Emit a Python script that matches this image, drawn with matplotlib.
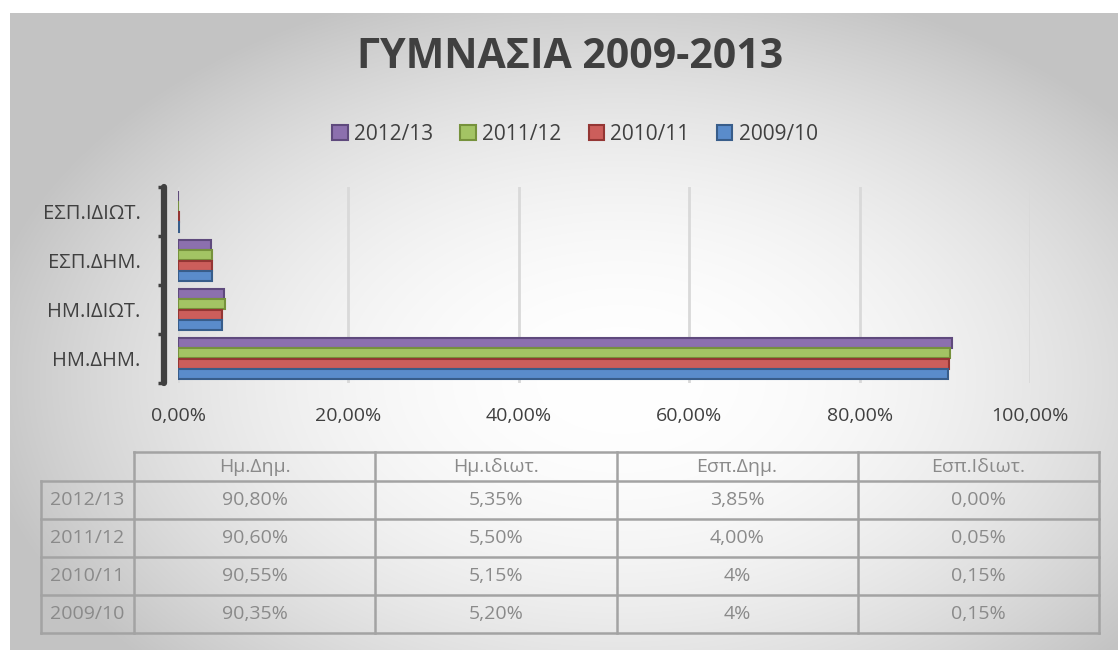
import numpy as np
import matplotlib
matplotlib.use("Agg")
import matplotlib.pyplot as plt
from matplotlib.patches import Patch

plt.rcParams['font.family'] = ['Open Sans', 'DejaVu Sans']

# ---------------- data ----------------
title = "ΓΥΜΝΑΣΙΑ 2009-2013"
categories = ["ΗΜ.ΔΗΜ.", "ΗΜ.ΙΔΙΩΤ.", "ΕΣΠ.ΔΗΜ.", "ΕΣΠ.ΙΔΙΩΤ."]
table_cols = ["Ημ.Δημ.", "Ημ.ιδιωτ.", "Εσπ.Δημ.", "Εσπ.Ιδιωτ."]
series = ["2012/13", "2011/12", "2010/11", "2009/10"]
v_2012_13 = [0.9080, 0.0535, 0.0385, 0.0000]
v_2011_12 = [0.9060, 0.0550, 0.0400, 0.0005]
v_2010_11 = [0.9055, 0.0515, 0.0400, 0.0015]
v_2009_10 = [0.9035, 0.0520, 0.0400, 0.0015]
table_text = [
    ["90,80%", "5,35%", "3,85%", "0,00%"],
    ["90,60%", "5,50%", "4,00%", "0,05%"],
    ["90,55%", "5,15%", "4%", "0,15%"],
    ["90,35%", "5,20%", "4%", "0,15%"],
]
xticks = [0.0, 0.2, 0.4, 0.6, 0.8, 1.0]
xtick_labels = ["0,00%", "20,00%", "40,00%", "60,00%", "80,00%", "100,00%"]

values = [v_2012_13, v_2011_12, v_2010_11, v_2009_10]
fills = ["#8c70ae", "#a3c464", "#cc5e5b", "#5a8ccb"]
edges = ["#5f4a7d", "#76923c", "#943634", "#385d8a"]

W, H = 1118, 655
fig = plt.figure(figsize=(W / 100, H / 100), dpi=100)
fig.patch.set_facecolor("white")

def fx(px):
    return px / W

def fy(py):
    return 1 - py / H

# ---------------- background gradient ----------------
bx0, by0, bx1, by1 = 10, 13, 1118, 650
bg = fig.add_axes([fx(bx0), fy(by1), fx(bx1 - bx0), (by1 - by0) / H])
xx, yy = np.meshgrid(np.arange(bx0, bx1), np.arange(by0, by1))
r2 = ((xx - 620) / 660.0) ** 2 + ((yy - 380) / 420.0) ** 2
lev = np.clip(255 - 62 * r2, 195, 255) / 255.0
bg.imshow(np.dstack([lev, lev, lev]), aspect="auto", interpolation="bilinear")
bg.axis("off")

# ---------------- overlay axes for title, legend, table (pixel coords) ----------------
ov = fig.add_axes([0, 0, 1, 1])
ov.set_xlim(0, W)
ov.set_ylim(H, 0)
ov.axis("off")
ov.patch.set_alpha(0)

ov.text(570, 58, title, ha="center", va="center", fontsize=29.5,
        fontweight="bold", color="#404040")

# ---------------- bar chart ----------------
ax = fig.add_axes([fx(178), fy(383), fx(1030 - 178), (383 - 187) / H])
ax.patch.set_alpha(0)
ypos = np.arange(len(categories))
offsets = [0.32, 0.107, -0.107, -0.32]
bh = 0.2
for vals, off, fc, ec, lab in zip(values, offsets, fills, edges, series):
    ax.barh(ypos + off, vals, height=bh, color=fc, edgecolor=ec, linewidth=1.5,
            label=lab, zorder=3)

ax.set_xlim(0, 1.0)
ax.set_ylim(-0.5, len(categories) - 0.5)
ax.set_xticks(xticks)
ax.set_xticklabels(xtick_labels)
ax.set_yticks(ypos)
ax.set_yticklabels(categories)
ax.set_yticks(np.arange(-0.5, len(categories)), minor=True)
ax.tick_params(axis="x", length=0, pad=17, labelsize=14, labelcolor="#404040")
ax.tick_params(axis="y", which="major", length=0, pad=17, labelsize=14.5,
               labelcolor="#404040")
ax.tick_params(axis="y", which="minor", length=4, width=2.5, color="#404040")
ax.xaxis.grid(True, color="#d9d9d9", linewidth=2, zorder=0)
ax.set_axisbelow(True)
for s in ["top", "right", "bottom"]:
    ax.spines[s].set_visible(False)
ax.spines["left"].set_position(("outward", 10))
ax.spines["left"].set_linewidth(4.5)
ax.spines["left"].set_color("#404040")
ax.spines["left"].set_capstyle("round")

# ---------------- legend ----------------
handles = [Patch(facecolor=fc, edgecolor=ec, linewidth=1.5, label=lab)
           for fc, ec, lab in zip(fills, edges, series)]
fig.legend(handles=handles, loc="center", bbox_to_anchor=(fx(575), fy(134)),
           ncol=4, frameon=False, fontsize=15, handlelength=0.75,
           handleheight=0.75, handletextpad=0.3, columnspacing=1.3,
           labelcolor="#404040")

# ---------------- data table ----------------
tcol = "#a3a3a3"
ttext = "#8a8a8a"
x_lab0, x_lab1 = 41, 134
x_right = 1099
col_edges = np.linspace(x_lab1, x_right, len(table_cols) + 1)
row_edges = [452, 481, 519, 557, 595, 633]
lw = 1.8
ov.plot([x_lab1, x_right], [row_edges[0]] * 2, color=tcol, lw=lw)
for xe in col_edges:
    ov.plot([xe, xe], [row_edges[0], row_edges[-1]], color=tcol, lw=lw)
ov.plot([x_lab0, x_lab0], [row_edges[1], row_edges[-1]], color=tcol, lw=lw)
for ye in row_edges[1:]:
    ov.plot([x_lab0, x_right], [ye, ye], color=tcol, lw=lw)

for j, name in enumerate(table_cols):
    cx = (col_edges[j] + col_edges[j + 1]) / 2
    ov.text(cx, (row_edges[0] + row_edges[1]) / 2, name, ha="center",
            va="center", fontsize=14, color=ttext)
for i, lab in enumerate(series):
    cy = (row_edges[i + 1] + row_edges[i + 2]) / 2
    ov.text((x_lab0 + x_lab1) / 2, cy, lab, ha="center", va="center",
            fontsize=14, color=ttext)
    for j in range(len(table_cols)):
        cx = (col_edges[j] + col_edges[j + 1]) / 2
        ov.text(cx, cy, table_text[i][j], ha="center", va="center",
                fontsize=14, color=ttext)

fig.savefig("out.png", dpi=100, facecolor="white")
